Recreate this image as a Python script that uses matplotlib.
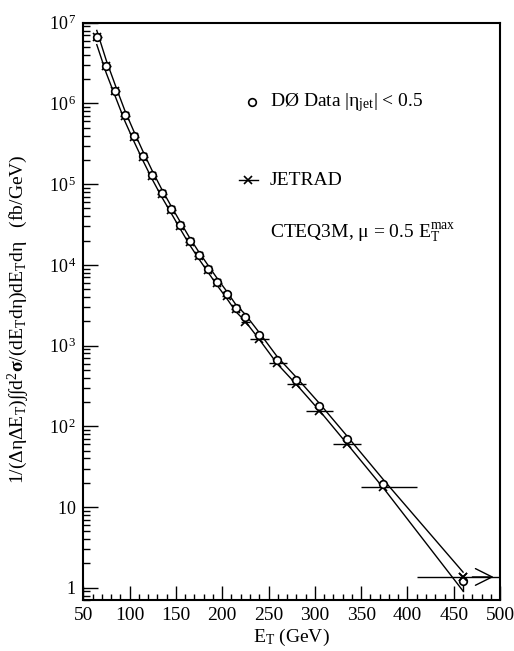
import numpy as np
import matplotlib
matplotlib.use("Agg")
import matplotlib.pyplot as plt
from matplotlib.ticker import FixedLocator, FixedFormatter, LogLocator, MultipleLocator

plt.rcParams['font.family'] = ['Liberation Serif', 'DejaVu Serif']
plt.rcParams['mathtext.fontset'] = 'custom'
plt.rcParams['mathtext.rm'] = 'Liberation Serif'
plt.rcParams['mathtext.it'] = 'Liberation Serif:italic'
plt.rcParams['mathtext.bf'] = 'Liberation Serif:bold'

# bin centres (GeV)
et = [64.6, 74.7, 84.7, 94.7, 104.7, 114.7, 124.7, 134.7, 144.7, 154.7, 164.7,
      174.7, 184.7, 194.7, 204.7, 214.7, 224.7, 239.6, 259.6, 279.6, 304.5,
      334.4, 374.0, 460.0]
# bin edges for the horizontal bars
et_lo = [60, 70, 80, 90, 100, 110, 120, 130, 140, 150, 160, 170, 180, 190, 200,
         210, 220, 230, 250, 270, 290, 320, 350, 410]
et_hi = [70, 80, 90, 100, 110, 120, 130, 140, 150, 160, 170, 180, 190, 200, 210,
         220, 230, 250, 270, 290, 320, 350, 410, 500]

d0_data = [6.7e6, 2.93e6, 1.44e6, 7.2e5, 3.94e5, 2.22e5, 1.29e5, 7.8e4, 4.9e4,
           3.1e4, 1.98e4, 1.32e4, 9.0e3, 6.15e3, 4.3e3, 2.93e3, 2.23e3, 1.34e3,
           657, 372, 177, 69, 19.5, 1.21]
jetrad = [6.6e6, 2.88e6, 1.41e6, 7.05e5, 3.85e5, 2.17e5, 1.26e5, 7.6e4, 4.8e4,
          3.02e4, 1.93e4, 1.28e4, 8.7e3, 5.95e3, 4.15e3, 2.83e3, 1.96e3, 1.22e3,
          609, 332, 155, 61, 17.7, 1.36]
# systematic band of the data
band_hi = [8.04e6, 3.46e6, 1.67e6, 8.28e5, 4.49e5, 2.51e5, 1.445e5, 8.66e4,
           5.39e4, 3.41e4, 2.18e4, 1.45e4, 9.9e3, 6.77e3, 4.73e3, 3.22e3,
           2.45e3, 1.47e3, 723, 409, 195, 76.6, 21.8, 1.56]
band_lo = [5.36e6, 2.40e6, 1.21e6, 6.12e5, 3.39e5, 1.93e5, 1.135e5, 6.94e4,
           4.41e4, 2.79e4, 1.78e4, 1.19e4, 8.1e3, 5.54e3, 3.87e3, 2.64e3,
           2.01e3, 1.21e3, 591, 335, 159, 61.4, 17.2, 0.91]

ytick_vals = [1, 10, 1e2, 1e3, 1e4, 1e5, 1e6, 1e7]
ytick_labels = [r'1$\enspace\;$', r'10$\enspace\;$', r'10$^{\,2}$', r'10$^{\,3}$',
                r'10$^{\,4}$', r'10$^{\,5}$', r'10$^{\,6}$', r'10$^{\,7}$']
xtick_vals = [50, 100, 150, 200, 250, 300, 350, 400, 450, 500]

fig = plt.figure(figsize=(5.14, 6.51), dpi=100)
ax = fig.add_axes([0.162, 0.078, 0.811, 0.887])
ax.set_yscale('log')

ax.plot(et, band_hi, 'k-', lw=1.0, zorder=2)
ax.plot(et, band_lo, 'k-', lw=1.0, zorder=2)
ax.plot([et[-1], et[-1]], [band_lo[-1], d0_data[-1]], 'k-', lw=1.0, zorder=2)

xerr = [np.array(et) - np.array(et_lo), np.array(et_hi) - np.array(et)]
ax.errorbar(et, jetrad, xerr=xerr, fmt='x', color='k', ms=6, mew=1.2,
            elinewidth=1.0, capsize=0, zorder=3)
ax.plot(et, d0_data, 'o', mfc='white', mec='k', ms=5.5, mew=1.2, zorder=4)
ax.plot(et[-1], jetrad[-1], 'x', color='k', ms=6, mew=1.2, zorder=5)

# arrow on the last bin
ax.annotate('', xy=(493, jetrad[-1]), xytext=(470, jetrad[-1]),
            arrowprops=dict(arrowstyle='->,head_length=1.2,head_width=0.6',
                            lw=1.0, color='k', shrinkA=0, shrinkB=0))

ax.set_xlim(50, 500)
ax.set_ylim(0.70, 1e7)

ax.xaxis.set_major_locator(FixedLocator(xtick_vals))
ax.xaxis.set_minor_locator(MultipleLocator(10))
ax.yaxis.set_major_locator(FixedLocator(ytick_vals))
ax.yaxis.set_major_formatter(FixedFormatter(ytick_labels))
ax.yaxis.set_minor_locator(LogLocator(base=10, subs=np.arange(2, 10)))
ax.yaxis.set_minor_formatter(FixedFormatter([]))

ax.tick_params(which='both', direction='in', top=False, right=False, width=1.0)
ax.tick_params(axis='y', which='major', length=11, pad=5, labelsize=13)
ax.tick_params(axis='y', which='minor', length=5)
ax.tick_params(axis='x', which='major', length=10, pad=5, labelsize=14)
ax.tick_params(axis='x', which='minor', length=4)
for s in ax.spines.values():
    s.set_linewidth(1.5)

ax.set_xlabel(r'E$_{\rm T}$ (GeV)', fontsize=14, labelpad=2)
ax.set_ylabel(r'1/($\Delta$$\mathrm{η}$$\Delta$E$_{\rm T}$)∫∫d$^2$$\mathbf{σ}$/(dE$_{\rm T}$d$\mathrm{η}$)dE$_{\rm T}$d$\mathrm{η}$   (fb/GeV)',
              fontsize=14)
ax.yaxis.set_label_coords(-0.123, 0.487)

# legend-like annotations
ax.plot([0.405], [0.8626], 'o', mfc='white', mec='k', ms=5.5, mew=1.2,
        transform=ax.transAxes, clip_on=False)
ax.text(0.448, 0.8626, r'DØ Data |$\mathrm{η}_{\rm jet}$| < 0.5', fontsize=14,
        transform=ax.transAxes, va='center', ha='left')
ax.plot([0.373, 0.418], [0.7275, 0.7275], 'k-', lw=1.0, transform=ax.transAxes)
ax.plot([0.3955], [0.7275], 'x', color='k', ms=6, mew=1.2,
        transform=ax.transAxes)
ax.text(0.448, 0.7275, 'JETRAD', fontsize=14,
        transform=ax.transAxes, va='center', ha='left')
ax.text(0.448, 0.6357, r'CTEQ3M, $\mathrm{μ}$ = 0.5 E$_{\rm T}^{\rm max}$', fontsize=14,
        transform=ax.transAxes, va='center', ha='left')

fig.savefig('out.png', dpi=100)
